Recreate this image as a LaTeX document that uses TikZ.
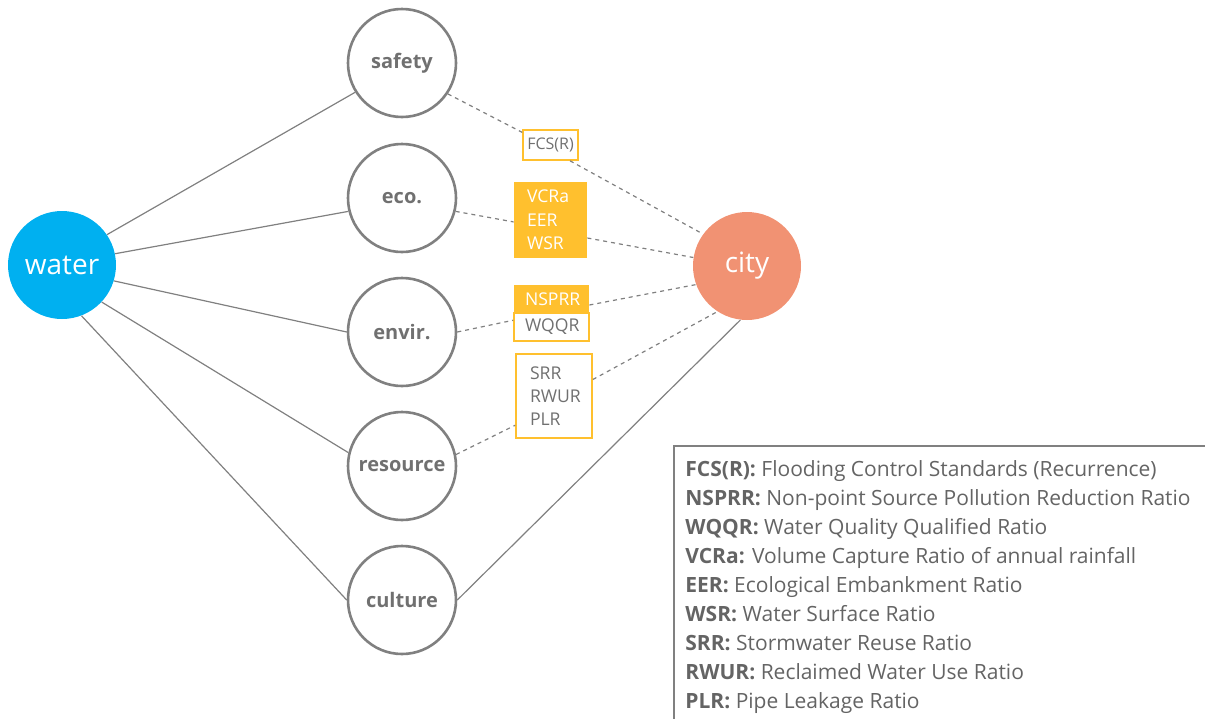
\documentclass[tikz,border=0pt]{standalone}
\usepackage{fontspec}
\setmainfont{Open Sans}
\definecolor{waterblue}{RGB}{0,176,240}
\definecolor{citysalmon}{RGB}{241,146,115}
\definecolor{boxorange}{RGB}{255,192,46}
\definecolor{txtgray}{RGB}{112,112,112}
\definecolor{keygray}{RGB}{100,100,100}
\definecolor{linegray}{RGB}{128,128,128}
\begin{document}
\begin{tikzpicture}[x=0.5pt,y=-0.5pt,
	aspect/.style={circle,draw=linegray,line width=1.3pt,minimum size=54pt,inner sep=0pt,
		text=txtgray,font=\fontsize{10}{11}\selectfont\bfseries},
	hub/.style={circle,minimum size=54pt,inner sep=0pt,text=white,font=\fontsize{14}{16}\selectfont},
	fullbox/.style={fill=boxorange,text=white,inner sep=0pt,align=left,font=\fontsize{8.8}{11.75}\selectfont},
	openbox/.style={draw=boxorange,line width=0.8pt,text=txtgray,inner sep=0pt,align=left,font=\fontsize{8.8}{11.5}\selectfont},
	link/.style={linegray,line width=0.6pt},
	dlink/.style={linegray,line width=0.6pt,dash pattern=on 2pt off 2pt}]
	\useasboundingbox (0,0) rectangle (1205,718);

	\node [hub,fill=waterblue] (water) at (62,265) {water};
	\node [hub,fill=citysalmon] (city) at (747,266) {city};

	\node [aspect] (safety) at (402,63) {safety};
	\node [aspect] (eco) at (402,198) {eco.};
	\node [aspect] (envir) at (402,332) {envir.};
	\node [aspect] (resource) at (402,466) {resource};
	\node [aspect] (culture) at (402,600) {culture};

	\draw [link] (water.34) -- (safety.212);
	\draw [link] (water.12) -- (eco.194);
	\draw [link] (water.-17) -- (envir.180);
	\draw [link] (water.-43) -- (resource.166);
	\draw [link] (water.-69) -- (culture.180);
	\draw [link] (culture.0) -- (city.-97);

	% indicator boxes
	\node [openbox,minimum width=27.5pt,minimum height=15pt,font=\fontsize{8}{10}\selectfont] (fcs) at (550.5,145) {FCS(R)};
	\node [fullbox,minimum width=36.5pt,minimum height=38pt,text width=23.5pt] (eco box) at (550.5,220) {VCRa\\EER\\WSR};
	\node [fullbox,minimum width=37.5pt,minimum height=14pt,text width=26.5pt] (nsprr) at (551.5,299) {NSPRR};
	\node [openbox,minimum width=37.5pt,minimum height=14pt,text width=26.5pt] (wqqr) at (551.5,327) {WQQR};
	\node [openbox,minimum width=38pt,minimum height=42pt,text width=24pt] (res box) at (554,396) {SRR\\RWUR\\PLR};

	\draw [dlink] (safety.-34) -- (fcs.156);
	\draw [dlink] (fcs.-39) -- (city.144);
	\draw [dlink] (eco.-14) -- (eco box.183);
	\draw [dlink] (eco box.-26) -- (city.171);
	\draw [dlink] (envir.0) -- (wqqr.170);
	\draw [dlink] (nsprr.-9) -- (city.200);
	\draw [dlink] (resource.12) -- (res box.217);
	\draw [dlink] (res box.23) -- (city.237);

	% legend
	\draw [linegray,line width=0.7pt] (674,446) rectangle (1212,725);
	\node [anchor=north west,inner sep=0pt,text=keygray,align=left,
		font=\fontsize{10.5}{14.5}\selectfont] (legend) at (685,460) {%
		\textbf{FCS(R):} Flooding Control Standards (Recurrence)\\
		\textbf{NSPRR:} Non-point Source Pollution Reduction Ratio\\
		\textbf{WQQR:} Water Quality Qualified Ratio\\
		\textbf{VCRa:} Volume Capture Ratio of annual rainfall\\
		\textbf{EER:} Ecological Embankment Ratio\\
		\textbf{WSR:} Water Surface Ratio\\
		\textbf{SRR:} Stormwater Reuse Ratio\\
		\textbf{RWUR:} Reclaimed Water Use Ratio\\
		\textbf{PLR:} Pipe Leakage Ratio};
\end{tikzpicture}
\end{document}
